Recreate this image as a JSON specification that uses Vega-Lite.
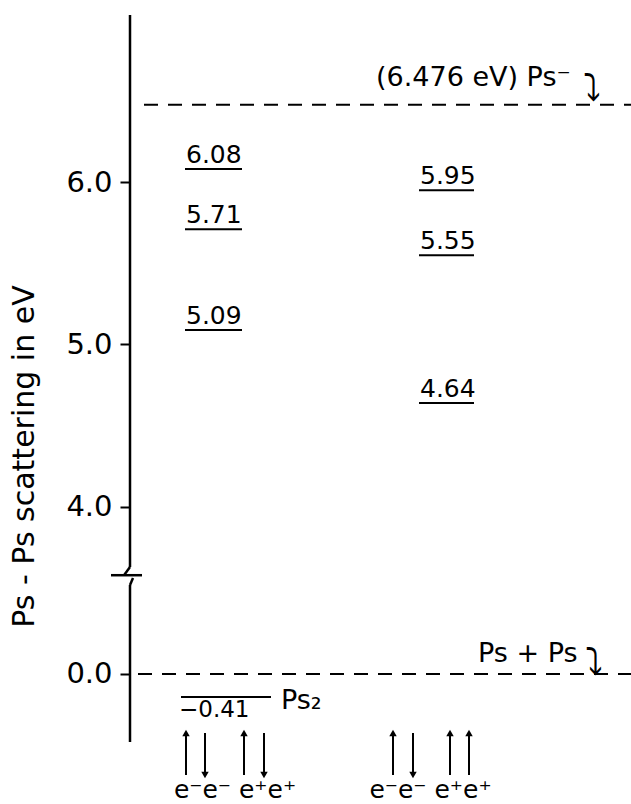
{
  "$schema": "https://vega.github.io/schema/vega-lite/v6.json",
  "background": "white",
  "padding": {"left": 9, "top": 13, "right": 0, "bottom": 0},
  "bounds": "flush",
  "spacing": 0,
  "config": {
    "view": {"stroke": null},
    "font": "DejaVu Sans",
    "axis": {"grid": false, "domain": false, "tickColor": "black", "tickWidth": 2, "tickSize": 10, "labelPadding": 8, "labelFontSize": 29, "labelColor": "black", "labelFont": "DejaVu Sans"}
  },
  "vconcat": [
    {
      "width": 502,
      "height": 562,
      "encoding": {
        "x": {"field": "x", "type": "quantitative", "scale": {"domain": [0, 100.4], "nice": false, "zero": false}, "axis": null},
        "y": {"field": "y", "type": "quantitative", "scale": {"domain": [3.569, 7.028], "nice": false, "zero": false},
          "axis": {"values": [4, 5, 6], "format": ".1f", "title": "Ps - Ps  scattering in eV", "titleFontSize": 30, "titleFontWeight": "normal", "titleColor": "black", "titleX": -97, "titleY": 441, "titleAngle": 270, "titleAlign": "center", "titleBaseline": "alphabetic"}}
      },
      "layer": [
        {
          "data": {"values": [
            {"x": 0, "x2": 0, "y": 7.028, "y2": 3.63},
            {"x": 0, "x2": -1.2, "y": 3.63, "y2": 3.58},
            {"x": -3.8, "x2": 2.4, "y": 3.58, "y2": 3.58}
          ]},
          "mark": {"type": "rule", "color": "black", "strokeWidth": 2.5},
          "encoding": {"x2": {"field": "x2"}, "y2": {"field": "y2"}}
        },
        {
          "data": {"values": [{"x": 2.8, "x2": 100.4, "y": 6.476}]},
          "mark": {"type": "rule", "color": "black", "strokeWidth": 2, "strokeDash": [14, 10]},
          "encoding": {"x2": {"field": "x2"}}
        },
        {
          "data": {"values": [
            {"x": 11, "x2": 22.4, "y": 6.08},
            {"x": 11, "x2": 22.4, "y": 5.71},
            {"x": 11, "x2": 22.4, "y": 5.09},
            {"x": 57.8, "x2": 68.8, "y": 5.95},
            {"x": 57.8, "x2": 68.8, "y": 5.55},
            {"x": 57.8, "x2": 68.8, "y": 4.64}
          ]},
          "layer": [
            {"mark": {"type": "rule", "color": "black", "strokeWidth": 2}, "encoding": {"x2": {"field": "x2"}}},
            {"mark": {"type": "text", "align": "left", "baseline": "middle", "dy": -14, "dx": 1, "fontSize": 25, "color": "black"},
             "encoding": {"text": {"field": "y", "type": "quantitative", "format": ".2f"}}}
          ]
        },
        {
          "data": {"values": [{"x": 49.2, "y": 6.476, "label": "(6.476 eV) Ps⁻"}]},
          "mark": {"type": "text", "align": "left", "baseline": "middle", "dy": -27, "fontSize": 27, "color": "black"},
          "encoding": {"text": {"field": "label"}}
        },
        {
          "data": {"values": [{"x": 92.4, "y": 6.476, "label": "⤵"}]},
          "mark": {"type": "text", "align": "center", "baseline": "middle", "dy": -16, "fontSize": 36, "color": "black"},
          "encoding": {"text": {"field": "label"}}
        }
      ]
    },
    {
      "width": 502,
      "height": 229,
      "encoding": {
        "x": {"field": "x", "type": "quantitative", "scale": {"domain": [0, 100.4], "nice": false, "zero": false}, "axis": null},
        "y": {"field": "y", "type": "quantitative", "scale": {"domain": [-2.357, 1.732], "nice": false, "zero": false},
          "axis": {"values": [0], "format": ".1f", "title": null}}
      },
      "layer": [
        {
          "data": {"values": [
            {"x": 0.6, "x2": 0, "y": 1.714, "y2": 1.589},
            {"x": 0, "x2": 0, "y": 1.589, "y2": -1.214}
          ]},
          "mark": {"type": "rule", "color": "black", "strokeWidth": 2.5},
          "encoding": {"x2": {"field": "x2"}, "y2": {"field": "y2"}}
        },
        {
          "data": {"values": [{"x": 1.6, "x2": 100.4, "y": 0}]},
          "mark": {"type": "rule", "color": "black", "strokeWidth": 2, "strokeDash": [14, 10]},
          "encoding": {"x2": {"field": "x2"}}
        },
        {
          "data": {"values": [{"x": 10.2, "x2": 28.2, "y": -0.41}]},
          "layer": [
            {"mark": {"type": "rule", "color": "black", "strokeWidth": 2}, "encoding": {"x2": {"field": "x2"}}},
            {"mark": {"type": "text", "align": "left", "baseline": "middle", "dy": 13, "dx": -2, "fontSize": 23, "color": "black"},
             "encoding": {"text": {"field": "y", "type": "quantitative", "format": ".2f"}}}
          ]
        },
        {
          "data": {"values": [{"x": 30.2, "y": -0.41, "label": "Ps₂"}]},
          "mark": {"type": "text", "align": "left", "baseline": "middle", "dy": 4, "fontSize": 27, "color": "black"},
          "encoding": {"text": {"field": "label"}}
        },
        {
          "data": {"values": [{"x": 69.6, "y": 0, "label": "Ps + Ps"}]},
          "mark": {"type": "text", "align": "left", "baseline": "middle", "dy": -20, "fontSize": 27, "color": "black"},
          "encoding": {"text": {"field": "label"}}
        },
        {
          "data": {"values": [{"x": 92.8, "y": 0, "label": "⤵"}]},
          "mark": {"type": "text", "align": "center", "baseline": "middle", "dy": -11, "fontSize": 36, "color": "black"},
          "encoding": {"text": {"field": "label"}}
        },
        {
          "data": {"values": [
            {"x": 11.2, "y": -1.804, "y2": -1.054, "spin": "up"},
            {"x": 15.0, "y": -1.054, "y2": -1.804, "spin": "down"},
            {"x": 22.8, "y": -1.804, "y2": -1.054, "spin": "up"},
            {"x": 26.8, "y": -1.054, "y2": -1.804, "spin": "down"},
            {"x": 52.6, "y": -1.804, "y2": -1.054, "spin": "up"},
            {"x": 56.6, "y": -1.054, "y2": -1.804, "spin": "down"},
            {"x": 64.0, "y": -1.804, "y2": -1.054, "spin": "up"},
            {"x": 67.8, "y": -1.804, "y2": -1.054, "spin": "up"}
          ]},
          "layer": [
            {"mark": {"type": "rule", "color": "black", "strokeWidth": 2}, "encoding": {"y2": {"field": "y2"}}},
            {"mark": {"type": "point", "filled": true, "color": "black", "opacity": 1, "size": 55},
             "encoding": {
               "y": {"field": "y2", "type": "quantitative", "scale": {"domain": [-2.357, 1.732], "nice": false, "zero": false}, "axis": {"values": [0], "format": ".1f", "title": null}},
               "shape": {"field": "spin", "type": "nominal", "scale": {"domain": ["up", "down"], "range": ["triangle-up", "triangle-down"]}, "legend": null}
             }}
          ]
        },
        {
          "data": {"values": [
            {"x": 21.0, "y": -1.804, "label": "e⁻e⁻ e⁺e⁺"},
            {"x": 60.1, "y": -1.804, "label": "e⁻e⁻ e⁺e⁺"}
          ]},
          "mark": {"type": "text", "align": "center", "baseline": "middle", "dy": 15, "fontSize": 25, "color": "black"},
          "encoding": {"text": {"field": "label"}}
        }
      ]
    }
  ]
}
